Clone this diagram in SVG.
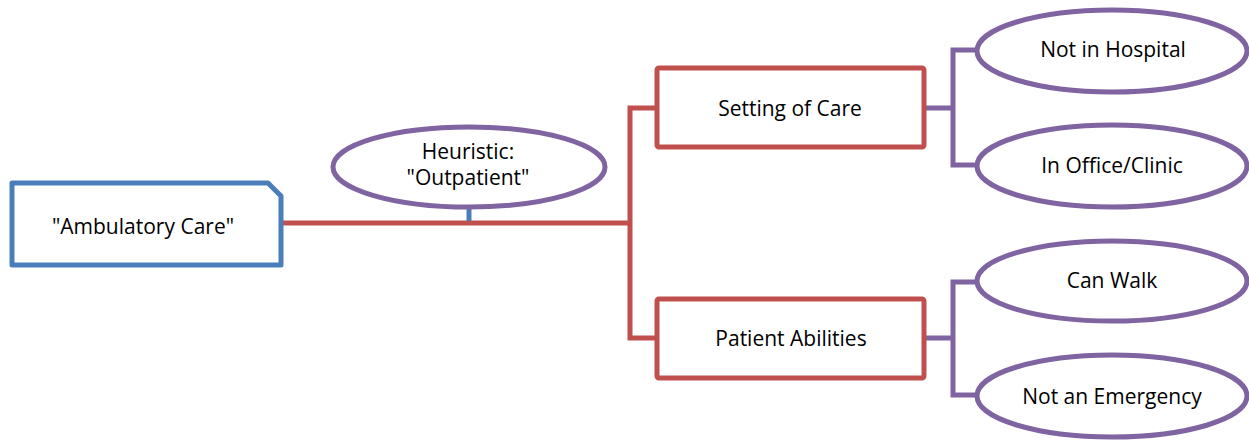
<svg xmlns="http://www.w3.org/2000/svg" width="1249" height="440" viewBox="0 0 1249 440">
<style>
text{font-family:"Open Sans","Liberation Sans",sans-serif;font-size:21px;fill:#000;text-anchor:middle}
.blue{fill:#fff;stroke:#4A7EBB;stroke-width:5;stroke-linejoin:round}
.red{fill:#fff;stroke:#C0504D;stroke-width:5;stroke-linejoin:round}
.pur{fill:#fff;stroke:#8064A2;stroke-width:5}
.lr{fill:none;stroke:#C0504D;stroke-width:5;stroke-linejoin:miter}
.lp{fill:none;stroke:#8064A2;stroke-width:5;stroke-linejoin:miter}
.lb{fill:none;stroke:#4A7EBB;stroke-width:5}
</style>
<g id="connectors">
<path class="lr" d="M283,223 H630 M657,108 H630 V338 H657"/>
<path class="lb" d="M469,208 V221"/>
<path class="lp" d="M926,108 H953 M978,50 H953 V165 H978"/>
<path class="lp" d="M926,338 H953 M978,282 H953 V395 H978"/>
</g>
<g id="ambulatory">
<path class="blue" d="M12,183 H268 L281,196 V265 H12 Z"/>
<text x="143" y="234">"Ambulatory Care"</text>
</g>
<g id="heuristic">
<ellipse class="pur" cx="469" cy="167" rx="136" ry="40"/>
<text x="468" y="159">Heuristic:</text>
<text x="468" y="185">"Outpatient"</text>
</g>
<g id="setting">
<rect class="red" x="657" y="68" width="267" height="79" rx="2"/>
<text x="790" y="116">Setting of Care</text>
</g>
<g id="abilities">
<rect class="red" x="657" y="299" width="267" height="79" rx="2"/>
<text x="791" y="346">Patient Abilities</text>
</g>
<g id="not-hospital">
<ellipse class="pur" cx="1112" cy="51" rx="135" ry="41"/>
<text x="1113" y="57">Not in Hospital</text>
</g>
<g id="office">
<ellipse class="pur" cx="1112" cy="166" rx="135" ry="41"/>
<text x="1112" y="173">In Office/Clinic</text>
</g>
<g id="walk">
<ellipse class="pur" cx="1112" cy="281" rx="135" ry="40"/>
<text x="1112" y="288">Can Walk</text>
</g>
<g id="emergency">
<ellipse class="pur" cx="1112" cy="396" rx="135" ry="41"/>
<text x="1112" y="404">Not an Emergency</text>
</g>
</svg>
